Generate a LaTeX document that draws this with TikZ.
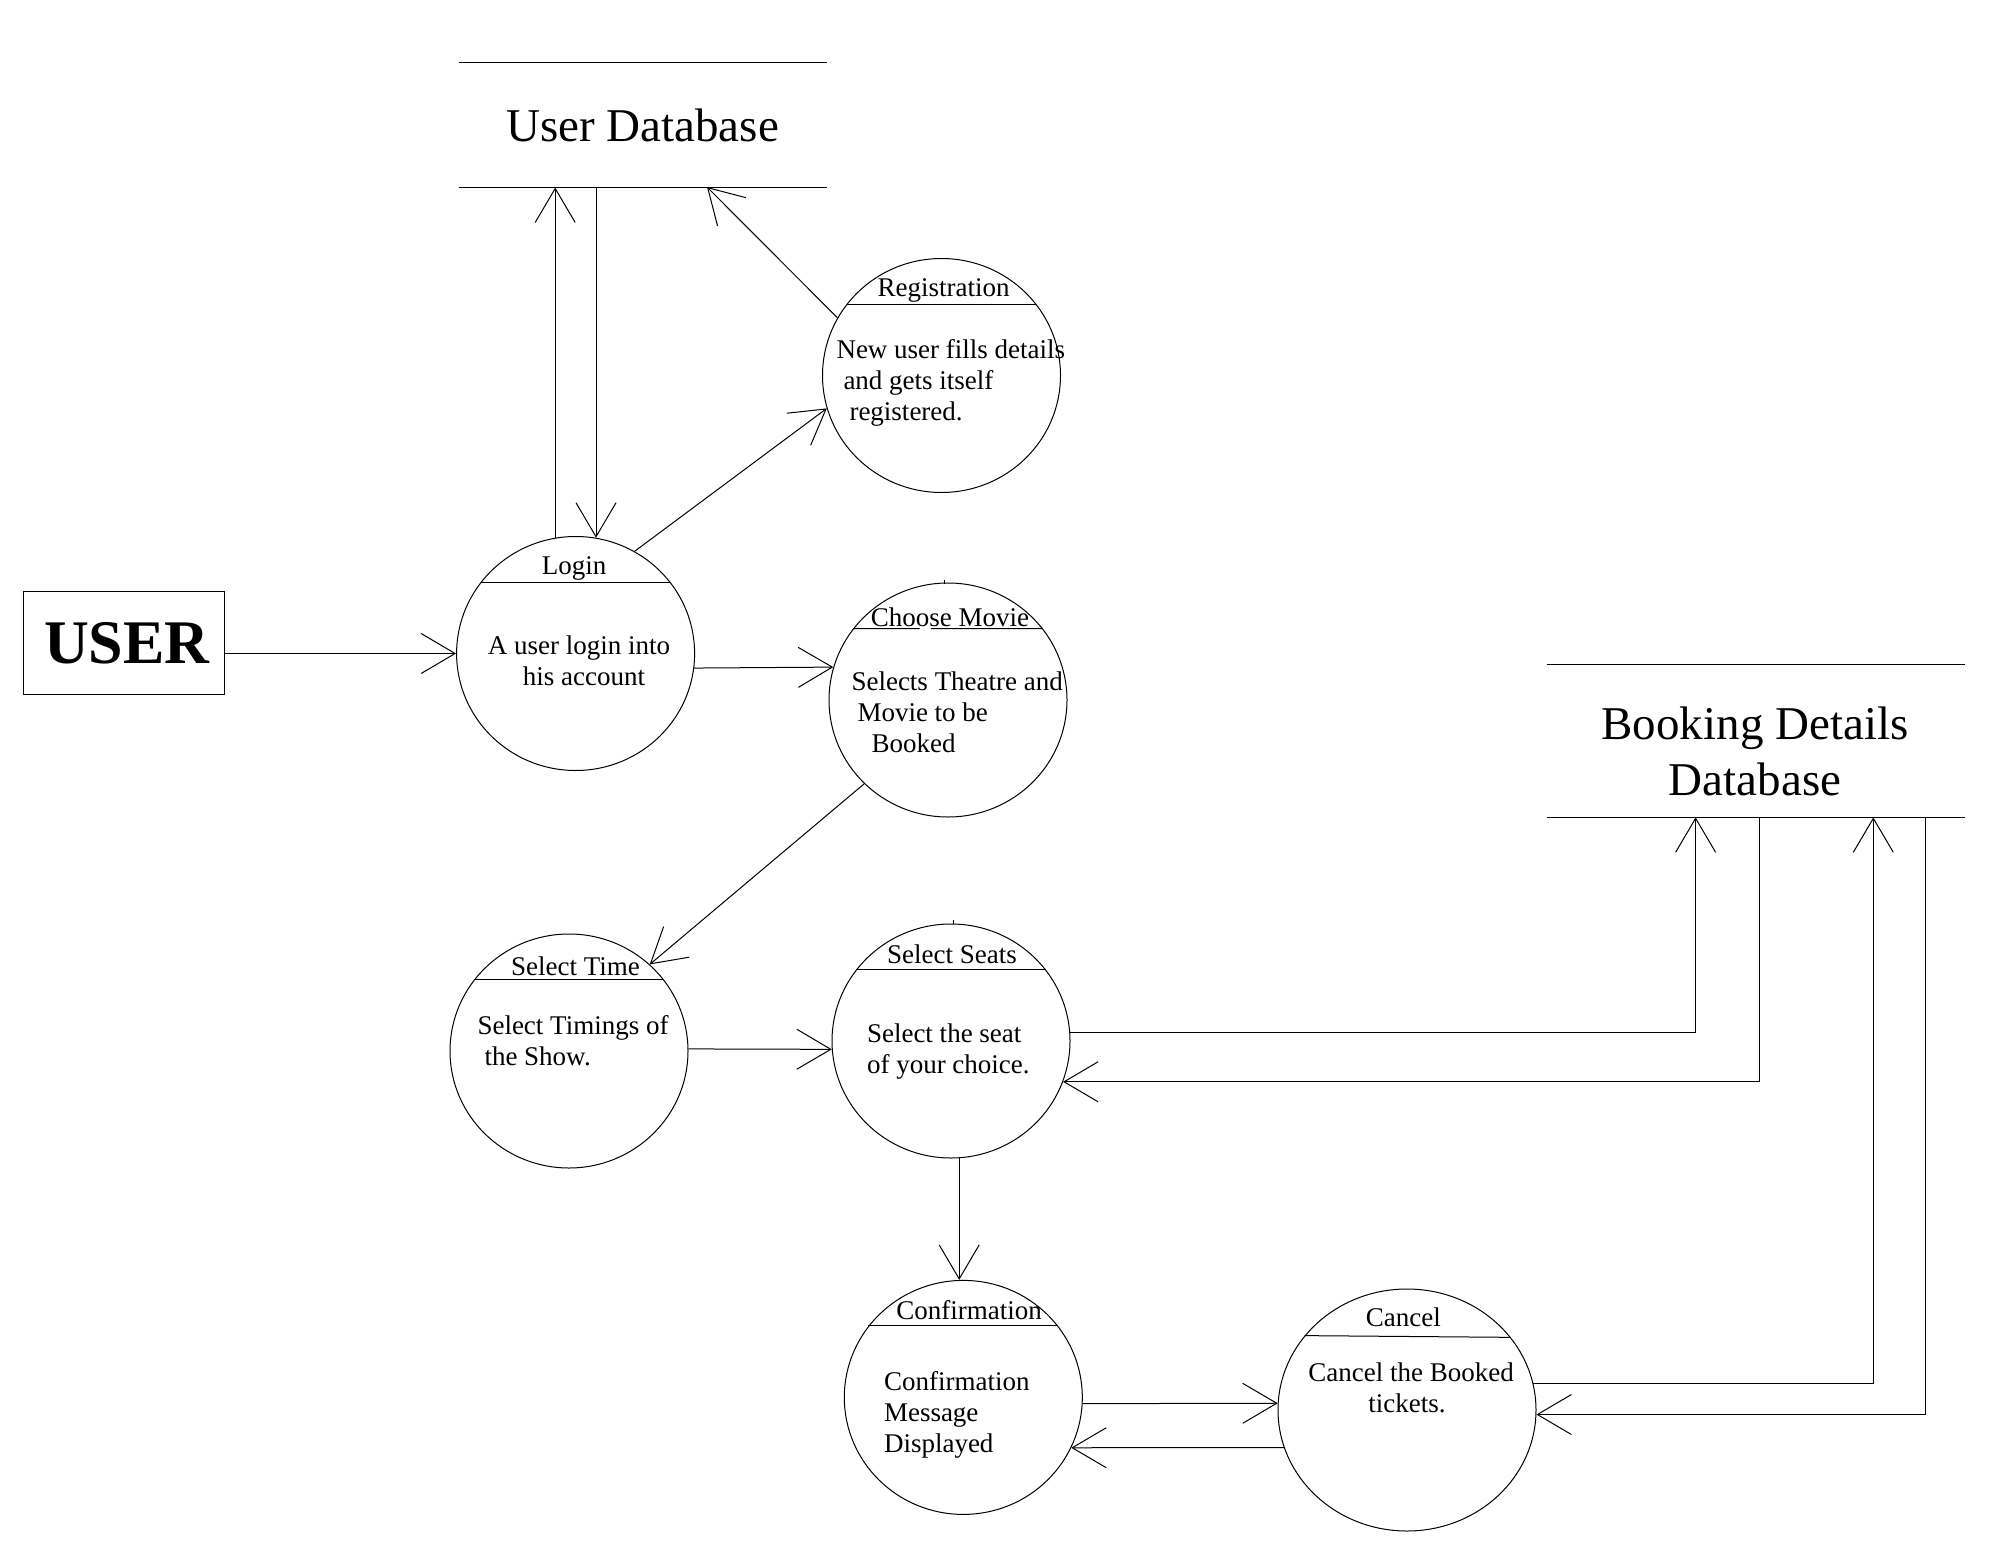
\documentclass[tikz,border=0pt]{standalone}
\usepackage{fontspec}
\setmainfont{Liberation Serif}
\usetikzlibrary{arrows.meta,shapes.geometric,calc}

\begin{document}
\begin{tikzpicture}[x=1pt,y=-1pt,line width=1pt,
  proc/.style={draw,ellipse,minimum width=238pt,minimum height=234pt,inner sep=0pt},
  ttl/.style={anchor=base,font=\fontsize{27}{31}\selectfont},
  txt/.style={anchor=base west,align=left,inner xsep=0pt,font=\fontsize{27}{31}\selectfont},
  store/.style={minimum width=367pt,minimum height=124pt,align=center,font=\fontsize{47}{56}\selectfont},
  ext/.style={draw,minimum width=201pt,minimum height=103pt,font=\fontsize{62}{70}\selectfont\bfseries},
  flow/.style={-{Straight Barb[length=34pt,width=40pt]}}]
 \useasboundingbox (0,0) rectangle (2005,1565);
 % stores and user
 \node[ext] (user) at (123.8,643.4) {\hspace*{6pt}USER};
 \node[store] (udb) at (642.5,125) {User Database};
 \node[store,minimum width=417pt,minimum height=152pt] (bdb) at (1755.5,741.3) {};
 \node[store,minimum width=0pt,minimum height=0pt] (bdbt) at (1755,751) {Booking Details\\Database};
 \draw (udb.north west) -- (udb.north east) (udb.south west) -- (udb.south east);
 \draw (bdb.north west) -- (bdb.north east) (bdb.south west) -- (bdb.south east);
 \coordinate (udbreg) at (707,187);
 \coordinate (bdbin1) at (1695.6,817.3);
 \coordinate (bdbout1) at (1759.3,817.3);
 \coordinate (bdbin2) at (1873.3,817.3);
 \coordinate (bdbout2) at (1925.7,817.3);
 % processes
 \node[proc] (login) at (575.6,653.5) {};
 \node[proc] (reg) at (941.5,375.5) {};
 \node[proc] (choose) at (948,700) {};
 \node[proc] (time) at (569,1051) {};
 \node[proc] (seats) at (951,1041) {};
 \node[proc] (conf) at (963.3,1397.4) {};
 \node[proc,minimum width=258pt,minimum height=242pt] (cancel) at (1407,1410) {};
 \draw (login.143) -- (login.37);
 \draw (reg.143) -- (reg.37);
 \draw (choose.143) -- ($(choose.143)!0.35!(choose.37)$) ($(choose.143)!0.41!(choose.37)$) -- (choose.37);
 \draw (time.143) -- (time.37);
 \draw (seats.143) -- (seats.37);
 \draw (conf.143) -- (conf.37);
 \draw (cancel.144.5) -- (cancel.35.5);
 \draw (944.6,580) -- (944.6,584);
 \draw (953.6,920) -- (953.6,924);
 % titles
 \node[ttl] (logint) at (574,574) {Login};
 \node[ttl] (regt) at (943.5,296) {Registration};
 \node[ttl] (chooset) at (950,626) {Choose Movie};
 \node[ttl] (timet) at (575.4,975) {Select Time};
 \node[ttl] (seatst) at (952,963) {Select Seats};
 \node[ttl] (conft) at (969,1319) {Confirmation};
 \node[ttl] (cancelt) at (1403.3,1326) {Cancel};
 % texts (base = last line)
 \node[txt,anchor=base,align=center] (loginb) at (579,685) {A user login into\\\hspace*{10pt}his account};
 \node[txt] (regb) at (836,420) {New user fills details\\\hspace*{7pt}and gets itself\\\hspace*{13pt}registered.};
 \node[txt] (chooseb) at (851,752.3) {Selects Theatre and\\\hspace*{6pt}Movie to be\\\hspace*{20pt}Booked};
 \node[txt] (timeb) at (477,1065) {Select Timings of\\\hspace*{7pt}the Show.};
 \node[txt] (seatsb) at (866.5,1073) {Select the seat\\of your choice.};
 \node[txt] (confb) at (883.5,1452) {Confirmation\\Message\\Displayed};
 \node[txt,anchor=base,align=center] (cancelb) at (1411,1412) {Cancel the Booked\\\hspace*{-8pt}tickets.};
 % flows
 \draw[flow] (user.east |- login.west) -- (login.west);
 \draw[flow] (login.100) -- (login.100 |- udb.south);
 \draw[flow] (login.80 |- udb.south) -- (login.80);
 \draw[flow] (login.60) -- (reg.196);
 \draw[flow] (reg.151) -- (udbreg);
 \draw[flow] (login.-7) -- (choose.164);
 \draw[flow] (choose.225) -- (time.47);
 \draw[flow] (time.1) -- (seats.184);
 \draw[flow] (seats.4) -| (bdbin1);
 \draw[flow] (bdbout1) |- (seats.-20);
 \draw[flow] (seats.-86) -- (seats.-86 |- conf.north);
 \draw[flow] (conf.-3) -- (cancel.177);
 \draw[flow] (cancel.197) -- (conf.-25);
 \draw[flow] (cancel.12) -| (bdbin2);
 \draw[flow] (bdbout2) |- (cancel.-2);
\end{tikzpicture}
\end{document}
